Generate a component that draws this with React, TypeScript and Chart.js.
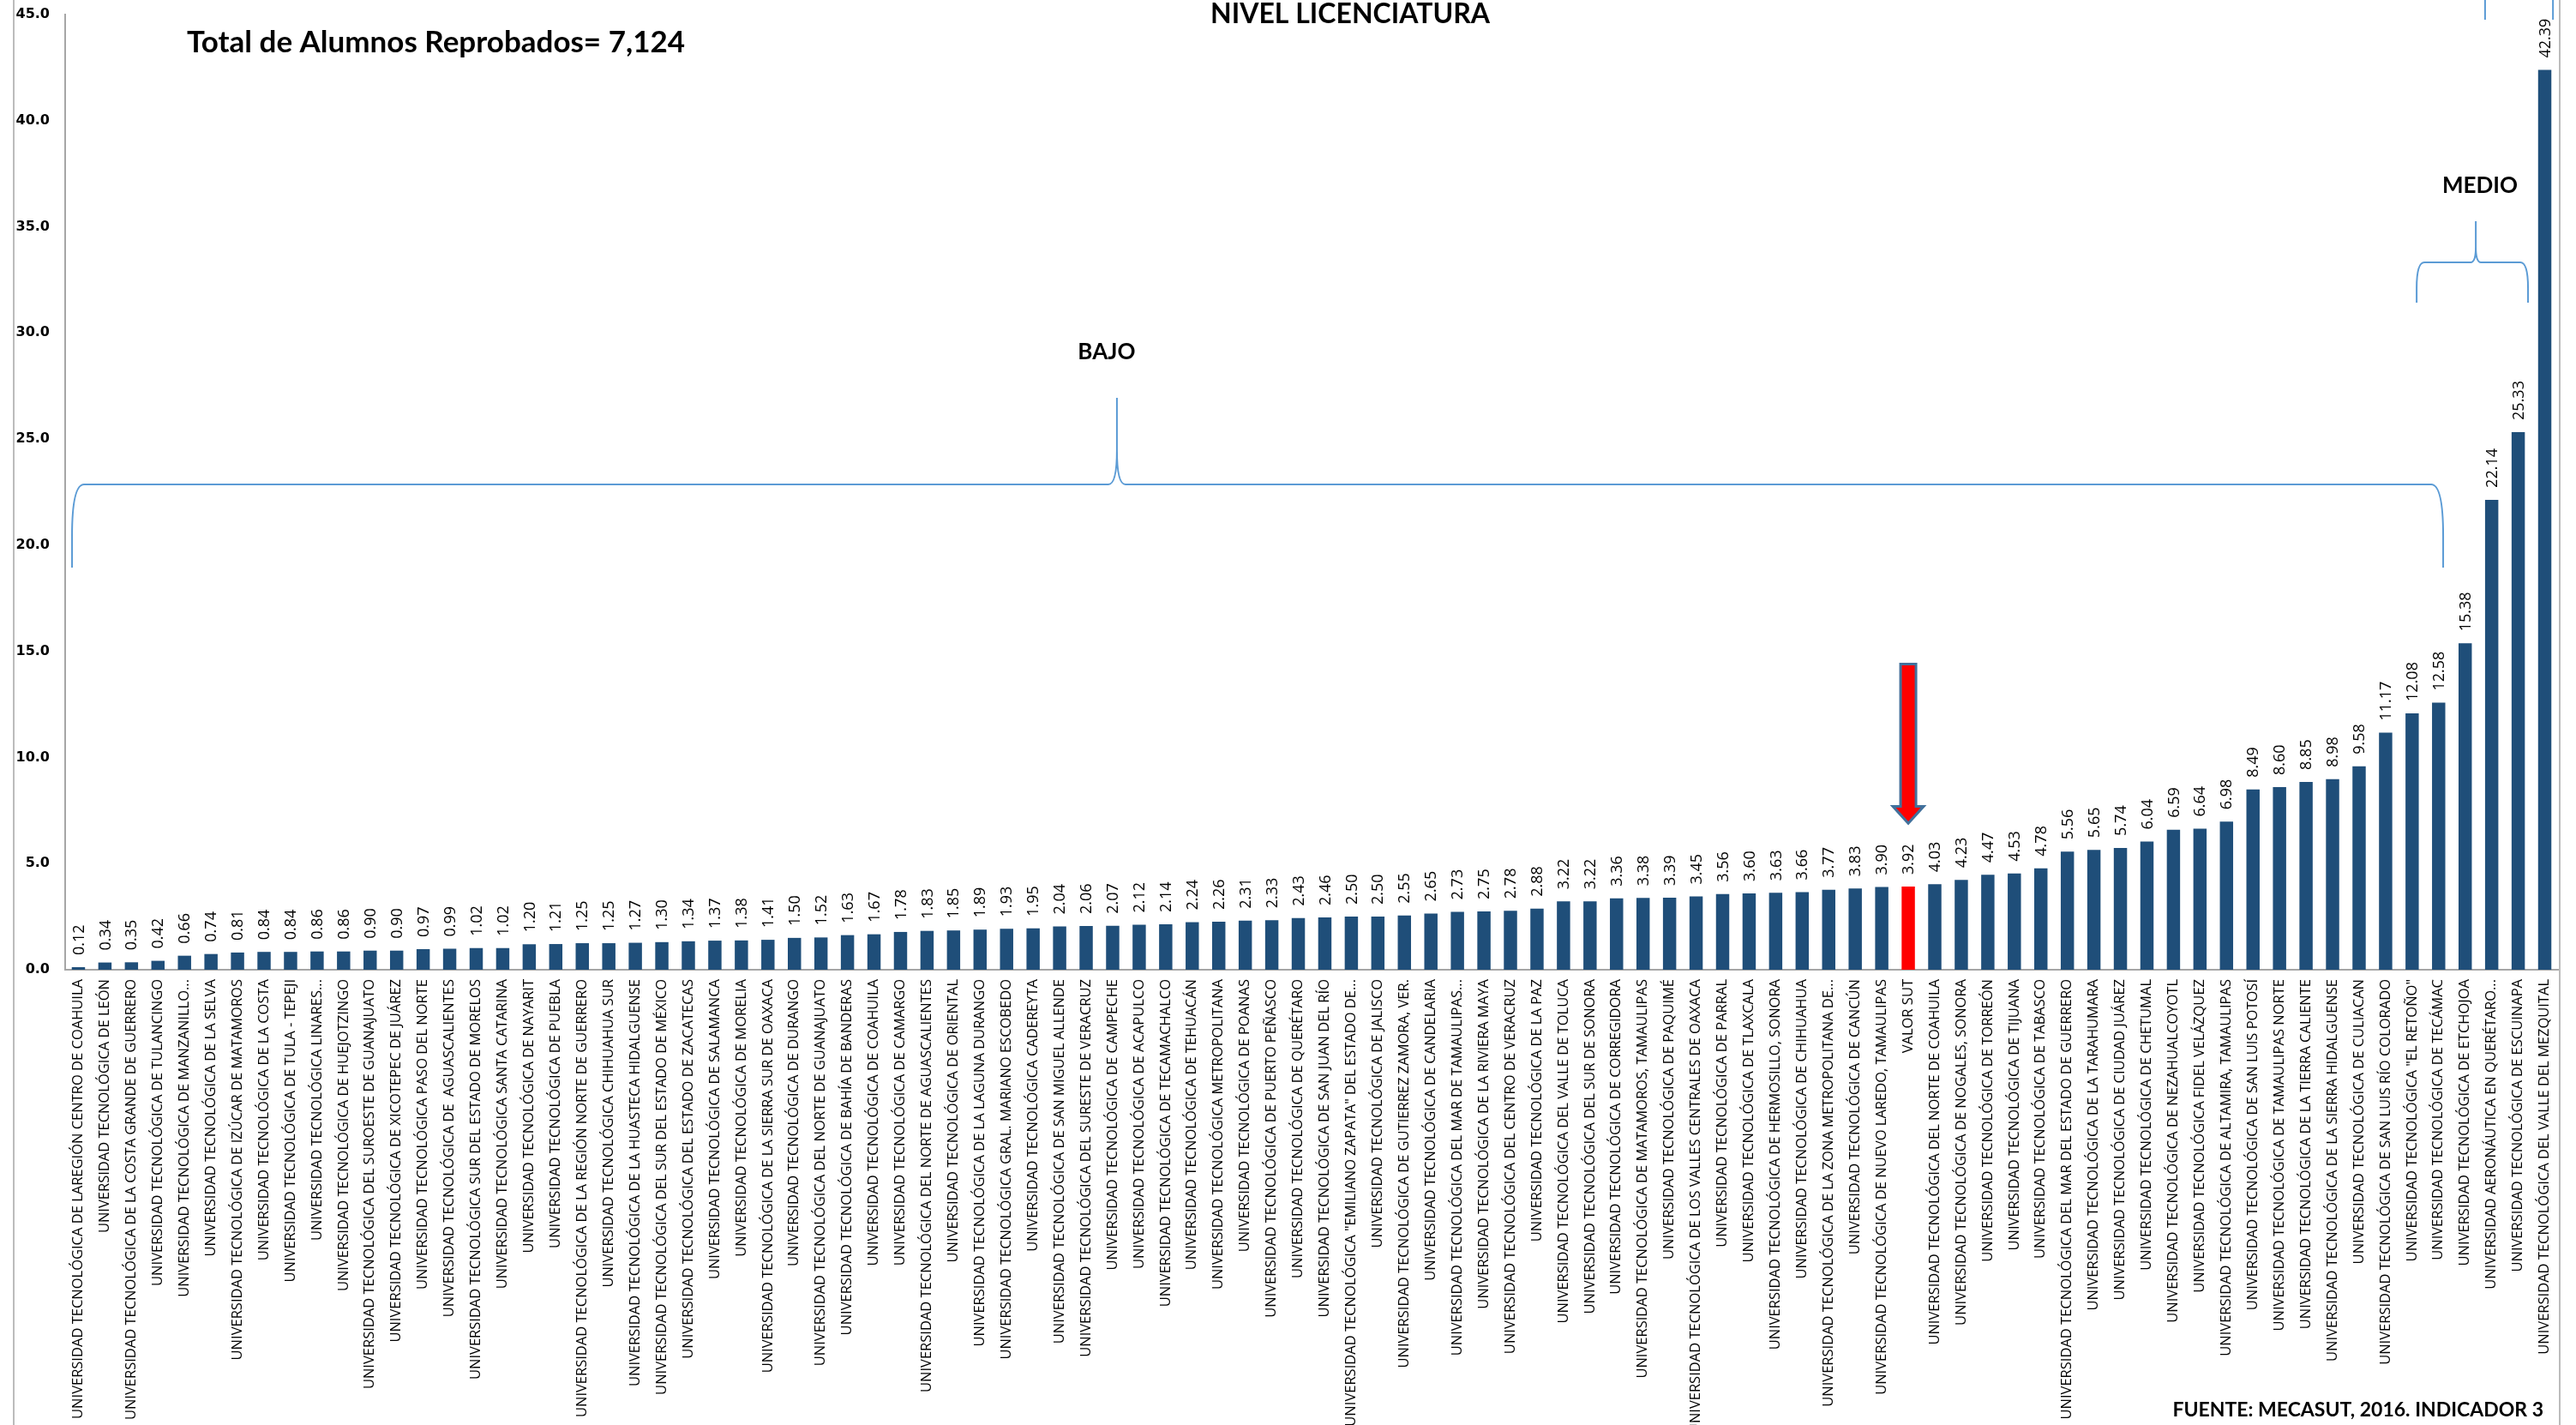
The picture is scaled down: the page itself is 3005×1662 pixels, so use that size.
import { useEffect, useRef } from "react";
import { Chart, registerables } from "chart.js";

Chart.register(...registerables);

const categories: string[] = [
  "UNIVERSIDAD TECNOLÓGICA DE LAREGIÓN CENTRO DE COAHUILA",
  "UNIVERSIDAD TECNOLÓGICA DE LEÓN",
  "UNIVERSIDAD TECNOLÓGICA DE LA COSTA GRANDE DE GUERRERO",
  "UNIVERSIDAD TECNOLÓGICA DE TULANCINGO",
  "UNIVERSIDAD TECNOLÓGICA DE MANZANILLO...",
  "UNIVERSIDAD TECNOLÓGICA DE LA SELVA",
  "UNIVERSIDAD TECNOLÓGICA DE IZÚCAR DE MATAMOROS",
  "UNIVERSIDAD TECNOLÓGICA DE LA COSTA",
  "UNIVERSIDAD TECNOLÓGICA DE TULA - TEPEJI",
  "UNIVERSIDAD TECNOLÓGICA LINARES...",
  "UNIVERSIDAD TECNOLÓGICA DE HUEJOTZINGO",
  "UNIVERSIDAD TECNOLÓGICA DEL SUROESTE DE GUANAJUATO",
  "UNIVERSIDAD TECNOLÓGICA DE XICOTEPEC DE JUÁREZ",
  "UNIVERSIDAD TECNOLÓGICA PASO DEL NORTE",
  "UNIVERSIDAD TECNOLÓGICA DE  AGUASCALIENTES",
  "UNIVERSIDAD TECNOLÓGICA SUR DEL ESTADO DE MORELOS",
  "UNIVERSIDAD TECNOLÓGICA SANTA CATARINA",
  "UNIVERSIDAD TECNOLÓGICA DE NAYARIT",
  "UNIVERSIDAD TECNOLÓGICA DE PUEBLA",
  "UNIVERSIDAD TECNOLÓGICA DE LA REGIÓN NORTE DE GUERRERO",
  "UNIVERSIDAD TECNOLÓGICA CHIHUAHUA SUR",
  "UNIVERSIDAD TECNOLÓGICA DE LA HUASTECA HIDALGUENSE",
  "UNIVERSIDAD TECNOLÓGICA DEL SUR DEL ESTADO DE MÉXICO",
  "UNIVERSIDAD TECNOLÓGICA DEL ESTADO DE ZACATECAS",
  "UNIVERSIDAD TECNOLÓGICA DE SALAMANCA",
  "UNIVERSIDAD TECNOLÓGICA DE MORELIA",
  "UNIVERSIDAD TECNOLÓGICA DE LA SIERRA SUR DE OAXACA",
  "UNIVERSIDAD TECNOLÓGICA DE DURANGO",
  "UNIVERSIDAD TECNOLÓGICA DEL NORTE DE GUANAJUATO",
  "UNIVERSIDAD TECNOLÓGICA DE BAHÍA DE BANDERAS",
  "UNIVERSIDAD TECNOLÓGICA DE COAHUILA",
  "UNIVERSIDAD TECNOLÓGICA DE CAMARGO",
  "UNIVERSIDAD TECNOLÓGICA DEL NORTE DE AGUASCALIENTES",
  "UNIVERSIDAD TECNOLÓGICA DE ORIENTAL",
  "UNIVERSIDAD TECNOLÓGICA DE LA LAGUNA DURANGO",
  "UNIVERSIDAD TECNOLÓGICA GRAL. MARIANO ESCOBEDO",
  "UNIVERSIDAD TECNOLÓGICA CADEREYTA",
  "UNIVERSIDAD TECNOLÓGICA DE SAN MIGUEL ALLENDE",
  "UNIVERSIDAD TECNOLÓGICA DEL SURESTE DE VERACRUZ",
  "UNIVERSIDAD TECNOLÓGICA DE CAMPECHE",
  "UNIVERSIDAD TECNOLÓGICA DE ACAPULCO",
  "UNIVERSIDAD TECNOLÓGICA DE TECAMACHALCO",
  "UNIVERSIDAD TECNOLÓGICA DE TEHUACÁN",
  "UNIVERSIDAD TECNOLÓGICA METROPOLITANA",
  "UNIVERSIDAD TECNOLÓGICA DE POANAS",
  "UNIVERSIDAD TECNOLÓGICA DE PUERTO PEÑASCO",
  "UNIVERSIDAD TECNOLÓGICA DE QUERÉTARO",
  "UNIVERSIDAD TECNOLÓGICA DE SAN JUAN DEL RÍO",
  "UNIVERSIDAD TECNOLÓGICA \"EMILIANO ZAPATA\" DEL ESTADO DE...",
  "UNIVERSIDAD TECNOLÓGICA DE JALISCO",
  "UNIVERSIDAD TECNOLÓGICA DE GUTIERREZ ZAMORA, VER.",
  "UNIVERSIDAD TECNOLÓGICA DE CANDELARIA",
  "UNIVERSIDAD TECNOLÓGICA DEL MAR DE TAMAULIPAS...",
  "UNIVERSIDAD TECNOLÓGICA DE LA RIVIERA MAYA",
  "UNIVERSIDAD TECNOLÓGICA DEL CENTRO DE VERACRUZ",
  "UNIVERSIDAD TECNOLÓGICA DE LA PAZ",
  "UNIVERSIDAD TECNOLÓGICA DEL VALLE DE TOLUCA",
  "UNIVERSIDAD TECNOLÓGICA DEL SUR DE SONORA",
  "UNIVERSIDAD TECNOLÓGICA DE CORREGIDORA",
  "UNIVERSIDAD TECNOLÓGICA DE MATAMOROS, TAMAULIPAS",
  "UNIVERSIDAD TECNOLÓGICA DE PAQUIMÉ",
  "UNIVERSIDAD TECNOLÓGICA DE LOS VALLES CENTRALES DE OAXACA",
  "UNIVERSIDAD TECNOLÓGICA DE PARRAL",
  "UNIVERSIDAD TECNOLÓGICA DE TLAXCALA",
  "UNIVERSIDAD TECNOLÓGICA DE HERMOSILLO, SONORA",
  "UNIVERSIDAD TECNOLÓGICA DE CHIHUAHUA",
  "UNIVERSIDAD TECNOLÓGICA DE LA ZONA METROPOLITANA DE...",
  "UNIVERSIDAD TECNOLÓGICA DE CANCÚN",
  "UNIVERSIDAD TECNOLÓGICA DE NUEVO LAREDO, TAMAULIPAS",
  "VALOR SUT",
  "UNIVERSIDAD TECNOLÓGICA DEL NORTE DE COAHUILA",
  "UNIVERSIDAD TECNOLÓGICA DE NOGALES, SONORA",
  "UNIVERSIDAD TECNOLÓGICA DE TORREÓN",
  "UNIVERSIDAD TECNOLÓGICA DE TIJUANA",
  "UNIVERSIDAD TECNOLÓGICA DE TABASCO",
  "UNIVERSIDAD TECNOLÓGICA DEL MAR DEL ESTADO DE GUERRERO",
  "UNIVERSIDAD TECNOLÓGICA DE LA TARAHUMARA",
  "UNIVERSIDAD TECNOLÓGICA DE CIUDAD JUÁREZ",
  "UNIVERSIDAD TECNOLÓGICA DE CHETUMAL",
  "UNIVERSIDAD TECNOLÓGICA DE NEZAHUALCOYOTL",
  "UNIVERSIDAD TECNOLÓGICA FIDEL VELÁZQUEZ",
  "UNIVERSIDAD TECNOLÓGICA DE ALTAMIRA, TAMAULIPAS",
  "UNIVERSIDAD TECNOLÓGICA DE SAN LUIS POTOSÍ",
  "UNIVERSIDAD TECNOLÓGICA DE TAMAULIPAS NORTE",
  "UNIVERSIDAD TECNOLÓGICA DE LA TIERRA CALIENTE",
  "UNIVERSIDAD TECNOLÓGICA DE LA SIERRA HIDALGUENSE",
  "UNIVERSIDAD TECNOLÓGICA DE CULIACAN",
  "UNIVERSIDAD TECNOLÓGICA DE SAN LUIS RÍO COLORADO",
  "UNIVERSIDAD TECNOLÓGICA \"EL RETOÑO\"",
  "UNIVERSIDAD TECNOLÓGICA DE TECÁMAC",
  "UNIVERSIDAD TECNOLÓGICA DE ETCHOJOA",
  "UNIVERSIDAD AERONÁUTICA EN QUERÉTARO...",
  "UNIVERSIDAD TECNOLÓGICA DE ESCUINAPA",
  "UNIVERSIDAD TECNOLÓGICA DEL VALLE DEL MEZQUITAL",
];

const values: number[] = [
  0.12, 0.34, 0.35, 0.42, 0.66, 0.74, 0.81, 0.84, 0.84, 0.86,
  0.86, 0.9, 0.9, 0.97, 0.99, 1.02, 1.02, 1.2, 1.21, 1.25,
  1.25, 1.27, 1.3, 1.34, 1.37, 1.38, 1.41, 1.5, 1.52, 1.63,
  1.67, 1.78, 1.83, 1.85, 1.89, 1.93, 1.95, 2.04, 2.06, 2.07,
  2.12, 2.14, 2.24, 2.26, 2.31, 2.33, 2.43, 2.46, 2.5, 2.5,
  2.55, 2.65, 2.73, 2.75, 2.78, 2.88, 3.22, 3.22, 3.36, 3.38,
  3.39, 3.45, 3.56, 3.6, 3.63, 3.66, 3.77, 3.83, 3.9, 3.92,
  4.03, 4.23, 4.47, 4.53, 4.78, 5.56, 5.65, 5.74, 6.04, 6.59,
  6.64, 6.98, 8.49, 8.6, 8.85, 8.98, 9.58, 11.17, 12.08, 12.58,
  15.38, 22.14, 25.33, 42.39,
];

const highlightCategory = "VALOR SUT";
const yMin = 0;
const yMax = 45;
const yStep = 5;

const titleText = "NIVEL LICENCIATURA";
const totalText = "Total de Alumnos Reprobados= 7,124";
const sourceText = "FUENTE: MECASUT, 2016. INDICADOR 3";

// Brace annotations in chart units
const braceLabels = ["BAJO", "MEDIO", ""];
const braceFrom = [-0.24, 88.17, 90.75];
const braceTo = [89.17, 92.37, 93.31];
const bracePeak = [39.16, 90.4, 92.0];
const braceLegBottom = [18.95, 31.43, 44.76];
const braceBar = [22.86, 33.33, 46.9];
const bracePeakTop = [26.94, 35.26, 49];
const braceLabelIndex = [38.77, 90.56, 92.0];
const braceLabelValue = [29.08, 36.92, 50];

// Arrow pointing to the highlighted bar (values)
const arrowTop = 14.4;
const arrowHeadBase = 7.7;
const arrowTip = 6.9;

const BAR_BLUE = "#1F4E79";
const BAR_RED = "#FF0000";
const BRACE_BLUE = "#5B9BD5";

const W = 3005;
const H = 1662;

const annotationsPlugin = {
  id: "annotations",
  afterDatasetsDraw(chart: any) {
    const ctx: CanvasRenderingContext2D = chart.ctx;
    const xs = chart.scales.x;
    const ys = chart.scales.y;
    const meta = chart.getDatasetMeta(0);

    // value labels
    ctx.save();
    ctx.fillStyle = "#000";
    ctx.font = '18px "Open Sans"';
    ctx.textAlign = "left";
    ctx.textBaseline = "middle";
    meta.data.forEach((bar: any, i: number) => {
      ctx.save();
      ctx.translate(bar.x + 1, bar.y - 14);
      ctx.rotate(-Math.PI / 2);
      ctx.fillText(values[i].toFixed(2), 0, 0);
      ctx.restore();
    });
    ctx.restore();

    // braces
    const braceRadii = [
      [14, 60, 10, 40],
      [9, 30, 6, 18],
      [9, 30, 6, 18],
    ];
    ctx.save();
    ctx.strokeStyle = BRACE_BLUE;
    ctx.lineWidth = 2;
    for (let b = 0; b < braceLabels.length; b++) {
      const x0 = xs.getPixelForValue(braceFrom[b]);
      const x1 = xs.getPixelForValue(braceTo[b]);
      const xp = xs.getPixelForValue(bracePeak[b]);
      const yB = ys.getPixelForValue(braceLegBottom[b]);
      const yH = ys.getPixelForValue(braceBar[b]);
      const yP = ys.getPixelForValue(bracePeakTop[b]);
      const [r1x, r1y, r2x, r2y] = braceRadii[b];
      ctx.beginPath();
      ctx.moveTo(x0, yB);
      ctx.lineTo(x0, yH + r1y);
      ctx.quadraticCurveTo(x0, yH, x0 + r1x, yH);
      ctx.lineTo(xp - r2x, yH);
      ctx.quadraticCurveTo(xp, yH, xp, yH - r2y);
      ctx.lineTo(xp, yP);
      ctx.moveTo(xp, yH - r2y);
      ctx.quadraticCurveTo(xp, yH, xp + r2x, yH);
      ctx.lineTo(x1 - r1x, yH);
      ctx.quadraticCurveTo(x1, yH, x1, yH + r1y);
      ctx.lineTo(x1, yB);
      ctx.stroke();
    }
    ctx.restore();

    ctx.save();
    ctx.fillStyle = "#000";
    ctx.font = "bold 26px Lato";
    ctx.textAlign = "center";
    ctx.textBaseline = "middle";
    for (let b = 0; b < braceLabels.length; b++) {
      if (!braceLabels[b]) continue;
      ctx.fillText(
        braceLabels[b],
        xs.getPixelForValue(braceLabelIndex[b]),
        ys.getPixelForValue(braceLabelValue[b])
      );
    }
    ctx.restore();

    // arrow
    const hi = categories.indexOf(highlightCategory);
    if (hi >= 0) {
      const ax = meta.data[hi].x;
      const yT = ys.getPixelForValue(arrowTop);
      const yHB = ys.getPixelForValue(arrowHeadBase);
      const yTip = ys.getPixelForValue(arrowTip);
      const sw = 9;
      const hw = 18;
      ctx.save();
      ctx.beginPath();
      ctx.moveTo(ax - sw, yT);
      ctx.lineTo(ax + sw, yT);
      ctx.lineTo(ax + sw, yHB);
      ctx.lineTo(ax + hw, yHB);
      ctx.lineTo(ax, yTip);
      ctx.lineTo(ax - hw, yHB);
      ctx.lineTo(ax - sw, yHB);
      ctx.closePath();
      ctx.fillStyle = BAR_RED;
      ctx.fill();
      ctx.strokeStyle = "#41719C";
      ctx.lineWidth = 3;
      ctx.stroke();
      ctx.restore();
    }
  },
  afterDraw(chart: any) {
    const ctx: CanvasRenderingContext2D = chart.ctx;
    ctx.save();
    // outer frame lines
    ctx.strokeStyle = "#A6A6A6";
    ctx.lineWidth = 1.5;
    ctx.beginPath();
    ctx.moveTo(16, 0);
    ctx.lineTo(16, H);
    ctx.moveTo(2986, 0);
    ctx.lineTo(2986, H);
    ctx.stroke();

    ctx.fillStyle = "#000";
    ctx.textBaseline = "alphabetic";
    ctx.font = "bold 32px Lato";
    ctx.textAlign = "center";
    ctx.fillText(titleText, 1575, 27);
    ctx.font = "bold 35px Lato";
    ctx.textAlign = "left";
    ctx.fillText(totalText, 218, 61);
    ctx.font = "bold 23px Lato";
    ctx.textAlign = "right";
    ctx.fillText(sourceText, 2967, 1652);
    ctx.restore();
  },
};

export default function App() {
  const canvasRef = useRef<HTMLCanvasElement | null>(null);

  useEffect(() => {
    const canvas = canvasRef.current;
    if (!canvas) return;
    const chart = new Chart(canvas, {
      type: "bar",
      data: {
        labels: categories,
        datasets: [
          {
            data: values,
            backgroundColor: categories.map((c) => (c === highlightCategory ? BAR_RED : BAR_BLUE)),
            borderWidth: 0,
            barPercentage: 1,
            categoryPercentage: 0.5,
          },
        ],
      },
      options: {
        responsive: false,
        animation: false,
        devicePixelRatio: 1,
        layout: { padding: { left: 0, right: 21, top: 17, bottom: 0 } },
        plugins: {
          legend: { display: false },
          tooltip: { enabled: false },
          title: { display: false },
        },
        scales: {
          x: {
            type: "category",
            grid: { display: false, drawTicks: false },
            border: { display: true, color: "#A6A6A6", width: 2 },
            ticks: {
              autoSkip: false,
              maxRotation: 90,
              minRotation: 90,
              padding: 11,
              color: "#000",
              font: { family: '"Open Sans"', size: 16.5 },
            },
            afterFit: (s: any) => {
              s.height = H - 1131;
            },
          },
          y: {
            min: yMin,
            max: yMax,
            grid: { display: false, drawTicks: true, tickLength: 18 },
            border: { display: true, color: "#A6A6A6", width: 2 },
            ticks: {
              stepSize: yStep,
              padding: 0,
              color: "#000",
              font: { family: '"DejaVu Sans"', size: 16, weight: "bold" },
              callback: (v: any) => Number(v).toFixed(1),
            },
            afterFit: (s: any) => {
              s.width = 76;
            },
          },
        },
      },
      plugins: [annotationsPlugin],
    });
    return () => chart.destroy();
  }, []);

  return (
    <div style={{ position: "fixed", left: 0, top: 0, width: W, height: H, background: "#fff" }}>
      <canvas ref={canvasRef} width={W} height={H} style={{ display: "block", width: W, height: H }} />
    </div>
  );
}
